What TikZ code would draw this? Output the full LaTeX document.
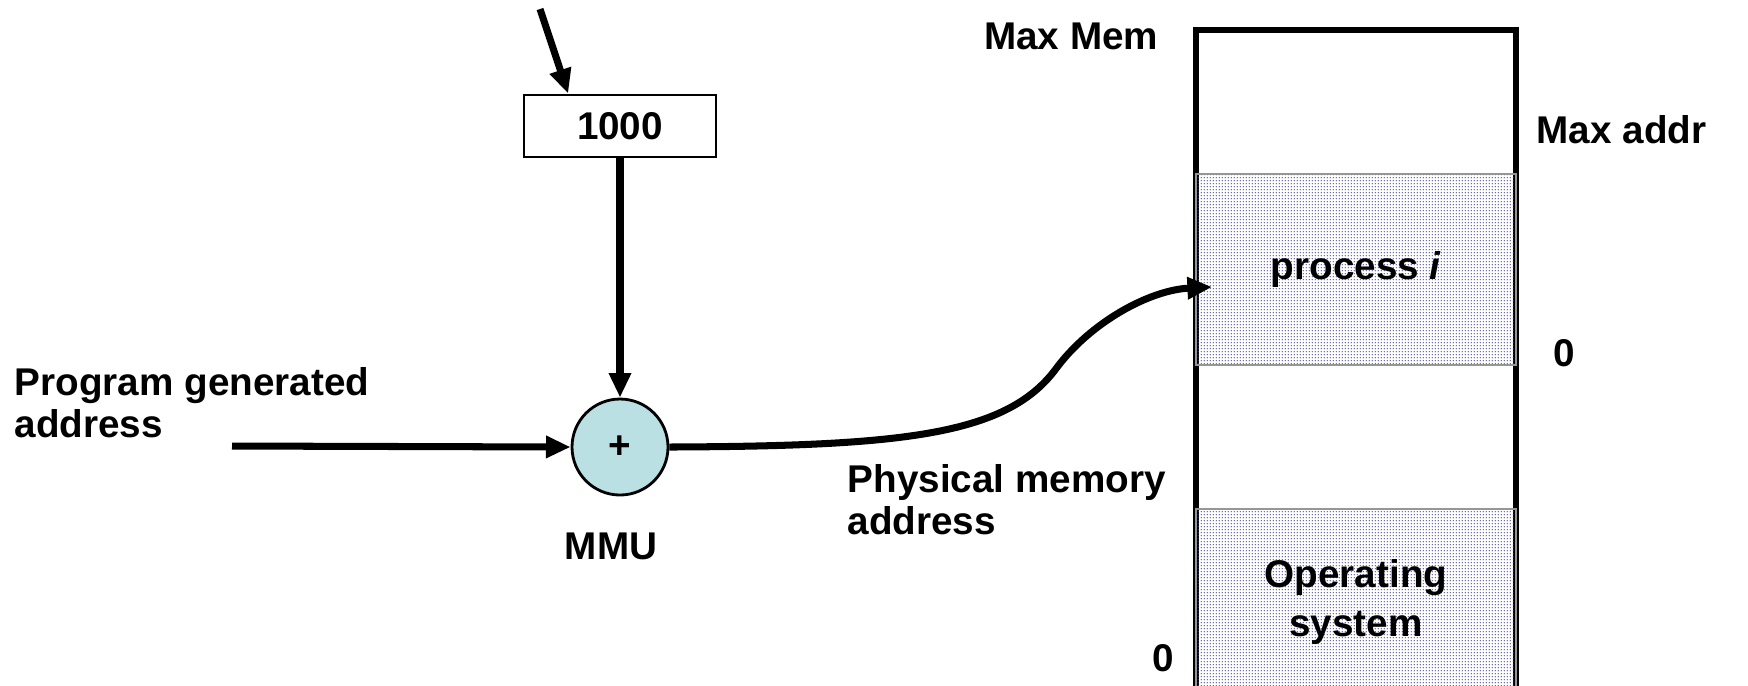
\documentclass[tikz,border=0pt]{standalone}
\usepackage{fontspec}
\setmainfont{Liberation Sans}
\usetikzlibrary{positioning,arrows.meta,patterns.meta}
\definecolor{mmufill}{RGB}{186,224,228}
\definecolor{dotcol}{RGB}{60,60,140}
\definecolor{regionline}{RGB}{150,150,150}

\tikzset{
  lbl/.style={font=\bfseries\fontsize{11}{12}\selectfont, inner sep=0pt, align=left},
  flow/.style={line width=2pt, -{Triangle[length=7pt,width=6pt]}},
  region/.style={lbl, align=center, draw=regionline, line width=0.6pt,
    pattern={Dots[distance=0.9pt,radius=0.24pt]}, pattern color=dotcol,
    minimum width=32mm}
}

\begin{document}
\begin{tikzpicture}[x=0.1mm, y=-0.1mm]
\useasboundingbox (0,0) rectangle (1748,685);
\clip (0,0) rectangle (1748,685);
% Memory column
\draw[line width=1.9pt] (1196,700) -- (1196,30) -- (1516,30) -- (1516,700);
\node[region, minimum height=19.1mm] (proc) at (1356,269.5) {process \textit{i}};
\node[region, minimum height=18.6mm] (os) at (1356,602) {Operating\\[2pt]system};
% Memory limits
\node[lbl, anchor=east] (maxmem) at (1159,36) {Max Mem};
\node[lbl, anchor=west] (maxaddr) at (1536,130) {Max addr};
\node[lbl] (zerotop) at (1564,353) {0};
\node[lbl] (zerobot) at (1163,658) {0};
% Register and MMU
\node[lbl, draw, line width=0.8pt, minimum width=19.2mm, minimum height=6.2mm] (reg) at (620,126) {1000};
\node[lbl, circle, draw, line width=0.8pt, fill=mmufill, minimum size=9.6mm] (mmu) at (620,447) {+};
\node[lbl] (mmulbl) at (611,546) {MMU};
\node[lbl, anchor=west] (pga) at (14,403) {Program generated\\address};
\node[lbl, anchor=west] (pma) at (847,500) {Physical memory\\address};
% Connectors
\coordinate (topin) at (540,9);
\coordinate (addrin) at (232,446);
\coordinate (physin) at (1212,287);
\draw[flow] (topin) -- (reg.148);
\draw[flow] (reg.south) -- (mmu.north);
\draw[flow] (addrin) -- (mmu.west);
\draw[flow] (mmu.east) .. controls (900,446) and (1005,436) .. (1055,370)
  .. controls (1090,322) and (1150,290) .. (physin);
\end{tikzpicture}
\end{document}
